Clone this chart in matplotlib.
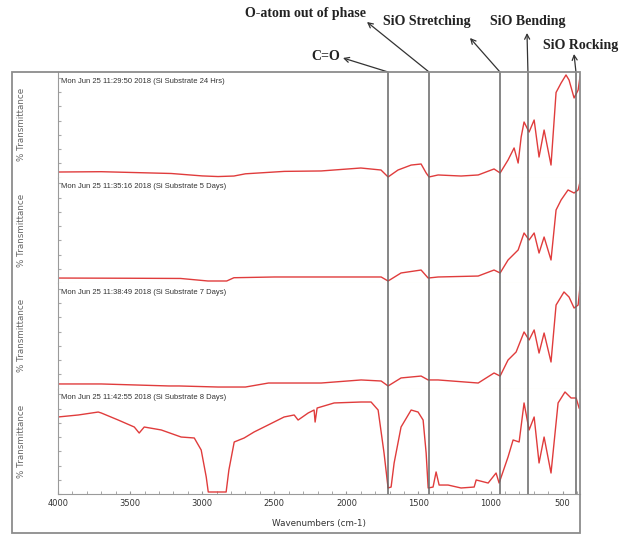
import matplotlib
matplotlib.use("Agg")
from matplotlib import pyplot as plt
from matplotlib.ticker import MultipleLocator
from matplotlib.patches import Rectangle

# FTIR spectra, % transmittance scaled to each panel (0 = panel bottom, 100 = top)
wn_24h = [4000, 3700, 3215, 3000, 2890, 2780, 2700, 2430, 2175, 1900, 1760, 1711, 1642, 1551,
          1482, 1447, 1427, 1364, 1205, 1086, 976, 934, 879, 837, 809, 788, 768, 733, 698, 664,
          629, 581, 546, 511, 477, 456, 421, 393, 380]
t_24h = [5.2, 5.5, 3.8, 1.5, 0.9, 1.4, 3.5, 5.8, 6.2, 9.0, 7.1, 0.5, 7.1, 11.8,
         12.8, 4.3, 0.5, 2.4, 1.4, 2.4, 8.1, 4.3, 16.6, 28.0, 13.7, 38.4, 52.6, 43.1, 54.5, 19.4,
         45.0, 11.8, 80.6, 89.6, 97.2, 92.4, 75.4, 82.9, 95.3]

wn_5d = [4000, 3500, 3150, 2960, 2830, 2780, 2500, 2175, 1898, 1759, 1711, 1621, 1482, 1433,
         1364, 1086, 976, 934, 879, 809, 768, 733, 698, 664, 629, 581, 546, 511, 463, 421, 393, 380]
t_5d = [4.7, 4.5, 4.3, 1.9, 1.9, 5.0, 5.7, 5.7, 5.7, 5.7, 1.9, 9.5, 12.3, 4.7,
        5.7, 6.6, 12.3, 9.5, 21.8, 31.3, 47.4, 40.8, 47.4, 28.4, 43.6, 21.8, 69.2, 78.7, 88.2, 85.3, 88.2, 95.7]

wn_7d = [4000, 3700, 3230, 3160, 2890, 2700, 2540, 2175, 1898, 1759, 1711, 1621, 1482, 1433,
         1364, 1086, 976, 934, 879, 823, 768, 733, 698, 664, 629, 581, 546, 491, 456, 421, 393, 380]
t_7d = [4.3, 4.3, 2.4, 2.4, 1.4, 1.4, 5.2, 5.2, 8.1, 7.1, 2.4, 10.0, 11.8, 8.1,
        8.1, 5.2, 14.7, 11.8, 27.0, 34.6, 53.6, 46.0, 55.5, 33.6, 52.6, 25.1, 79.1, 91.5, 86.7, 76.3, 79.1, 96.2]

wn_8d = [4000, 3859, 3721, 3700, 3582, 3471, 3437, 3402, 3284, 3146, 3055, 3007, 2972, 2958,
         2834, 2815, 2778, 2709, 2640, 2543, 2432, 2362, 2335, 2265, 2224, 2217, 2203, 2085,
         1898, 1829, 1780, 1739, 1711, 1690, 1669, 1621, 1551, 1503, 1468, 1447, 1433, 1399,
         1378, 1357, 1295, 1205, 1114, 1100, 1017, 962, 941, 879, 844, 802, 768, 733, 698, 664,
         629, 581, 532, 484, 442, 407, 386]
t_8d = [73.0, 74.9, 77.7, 76.8, 70.1, 63.5, 57.8, 63.5, 60.7, 54.0, 53.1, 41.7, 16.1, 1.9,
        1.9, 22.7, 49.3, 53.1, 58.8, 65.4, 73.0, 74.9, 70.1, 76.8, 79.6, 68.2, 81.5, 86.3,
        87.2, 87.2, 79.6, 38.9, 5.7, 6.6, 29.4, 63.5, 79.6, 77.7, 70.1, 38.9, 5.7, 6.6,
        20.9, 8.5, 8.5, 5.7, 6.6, 13.3, 10.4, 19.9, 10.4, 35.1, 51.2, 49.3, 86.3, 60.7, 73.0, 29.4,
        54.0, 19.9, 86.3, 96.7, 91.0, 91.0, 81.5]

panel_titles = ["Mon Jun 25 11:29:50 2018 (Si Substrate 24 Hrs)",
                "Mon Jun 25 11:35:16 2018 (Si Substrate 5 Days)",
                "Mon Jun 25 11:38:49 2018 (Si Substrate 7 Days)",
                "Mon Jun 25 11:42:55 2018 (Si Substrate 8 Days)"]
spectra = [(wn_24h, t_24h), (wn_5d, t_5d), (wn_7d, t_7d), (wn_8d, t_8d)]

band_wn = [1711, 1427, 935, 741, 408]
band_names = ["C=O", "O-atom out of phase", "SiO Stretching", "SiO Bending", "SiO Rocking"]
x_ticks = [4000, 3500, 3000, 2500, 2000, 1500, 1000, 500]

W, H = 630, 535
fig = plt.figure(figsize=(W / 100, H / 100), dpi=100)


def fx(x):
    return x / W


def fy(y):
    return 1 - y / H


# outer frame of the instrument printout
fig.add_artist(Rectangle((fx(12), fy(533)), fx(580) - fx(12), fy(72) - fy(533),
                         fill=False, edgecolor="#8c8c8c", lw=1.3, transform=fig.transFigure))

left, right, top, bottom = 58, 580, 72, 494
ph = (bottom - top) / 4
axes = []
for i, (wn, t) in enumerate(spectra):
    y0 = top + (i + 1) * ph
    ax = fig.add_axes([fx(left), fy(y0), fx(right) - fx(left), ph / H])
    ax.plot(wn, t, color="#e03c3c", lw=1.0)
    ax.set_xlim(4000, 380)
    ax.set_ylim(0, 100)
    for s in ["top", "right"]:
        ax.spines[s].set_visible(False)
    ax.spines["left"].set_color("#9a9a9a")
    ax.spines["left"].set_linewidth(0.8)
    ax.yaxis.set_major_locator(MultipleLocator(13.5))
    ax.tick_params(axis="y", direction="in", length=2, color="#aaaaaa", labelleft=False)
    for w in band_wn:
        ax.axvline(w, color="#666666", lw=1.1, zorder=3)
    ax.text(0.005, 0.91, panel_titles[i], transform=ax.transAxes, fontsize=5.5,
            family="Liberation Sans", color="#333333", va="center")
    fig.text(fx(22), fy(y0 - ph / 2), "% Transmittance", rotation=90, fontsize=6.3,
             color="#666666", ha="center", va="center")
    if i < 3:
        ax.spines["bottom"].set_color("#f1eed8")
        ax.tick_params(axis="x", bottom=False, labelbottom=False)
    else:
        ax.spines["bottom"].set_color("#9a9a9a")
        ax.set_xticks(x_ticks)
        ax.xaxis.set_minor_locator(MultipleLocator(100))
        ax.tick_params(axis="x", which="both", direction="in", length=2, color="#999999",
                       labelsize=6, labelcolor="#333333")
        ax.set_xlabel("Wavenumbers (cm-1)", fontsize=6.3, color="#333333", labelpad=8)
    axes.append(ax)

# band annotations above the chart
ax0 = axes[0]
heads = [(343, 58), (367, 22), (470, 38), (527, 33), (574, 54)]
labels = [(340, 56, "right"), (366, 14, "right"), (383, 22, "left"), (490, 22, "left"), (543, 46, "left")]
for w, name, hd, lb in zip(band_wn, band_names, heads, labels):
    ax0.annotate("", xy=(fx(hd[0]), fy(hd[1])), xycoords="figure fraction",
                 xytext=(w, 1.0), textcoords=("data", "axes fraction"),
                 arrowprops=dict(arrowstyle="->,head_length=0.35,head_width=0.18",
                                 color="#333333", lw=0.9, shrinkA=0, shrinkB=0))
    fig.text(fx(lb[0]), fy(lb[1]), name, ha=lb[2], va="center", fontsize=10,
             family="Liberation Serif", weight="bold", color="#222222")

fig.savefig("out.png", dpi=100)
